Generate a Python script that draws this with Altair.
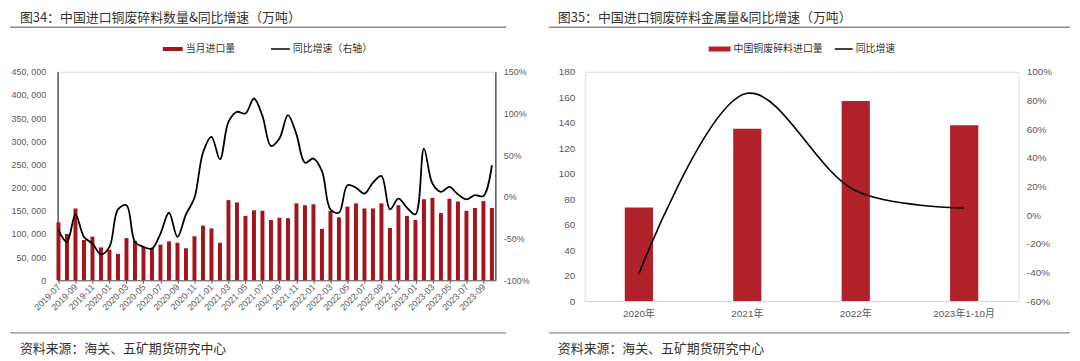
import altair as alt
import pandas as pd

# ---------------- data ----------------
months = [
    "2019-07", "2019-08", "2019-09", "2019-10", "2019-11", "2019-12",
    "2020-01", "2020-02", "2020-03", "2020-04", "2020-05", "2020-06",
    "2020-07", "2020-08", "2020-09", "2020-10", "2020-11", "2020-12",
    "2021-01", "2021-02", "2021-03", "2021-04", "2021-05", "2021-06",
    "2021-07", "2021-08", "2021-09", "2021-10", "2021-11", "2021-12",
    "2022-01", "2022-02", "2022-03", "2022-04", "2022-05", "2022-06",
    "2022-07", "2022-08", "2022-09", "2022-10", "2022-11", "2022-12",
    "2023-01", "2023-02", "2023-03", "2023-04", "2023-05", "2023-06",
    "2023-07", "2023-08", "2023-09", "2023-10",
]
monthly_imports = [
    125000, 100000, 155000, 87000, 94000, 71000, 66000, 57000, 91000, 85000,
    72000, 70000, 77000, 84000, 81000, 69000, 95000, 118000, 112000, 81000,
    173000, 168000, 139000, 151000, 150000, 130000, 135000, 134000, 166000, 162000,
    164000, 111000, 150000, 136000, 159000, 166000, 155000, 155000, 166000, 113000,
    162000, 139000, 130000, 175000, 178000, 145000, 176000, 170000, 150000, 156000,
    171000, 156000,
]
monthly_yoy = [
    -40, -54, -21, -48, -56, -69, -60, -15, -10, -54,
    -60, -62, -44, -19, -48, -21, -1, 53, 72, 45,
    90, 102, 100, 118, 97, 61, 70, 98, 75, 41,
    46, 31, -15, -19, 14, 11, 4, 17, 25, -15,
    -2, -13, -21, 58, 16, 6, 12, 3, -3, 2,
    1, 38,
]
month_tick_labels = months[::2]

years = ["2020年", "2021年", "2022年", "2023年1-10月"]
metal_imports = [73.5, 135.4, 157.2, 138.0]
metal_yoy = [-41, 85, 17, 5]

title_left = "图34：中国进口铜废碎料数量&同比增速（万吨）"
title_right = "图35：中国进口铜废碎料金属量&同比增速（万吨）"
source_text = "资料来源：海关、五矿期货研究中心"

# ---------------- style ----------------
CJK = "Noto Sans CJK SC"
NUMF = "Liberation Sans, Noto Sans CJK SC"
RED_L = "#a3141c"
RED_R = "#b0212a"
AX = "#595959"
TXT = "#333333"


def one(**kw):
    return pd.DataFrame([kw]) if kw else pd.DataFrame([{"k": 0}])


def text_layer(txt, x, y, size, align="left", font=CJK, color=TXT):
    return alt.Chart(one(t=txt)).mark_text(
        align=align, baseline="middle", fontSize=size, font=font, color=color
    ).encode(x=alt.value(x), y=alt.value(y), text="t:N")


def hrule(x1, x2, y, color, width, opacity=1.0):
    return alt.Chart(one()).mark_rule(
        color=color, strokeWidth=width, strokeOpacity=opacity
    ).encode(x=alt.value(x1), x2=alt.value(x2), y=alt.value(y))


# ---------------- left panel ----------------
W1, H1 = 441, 210
df1 = pd.DataFrame({"month": months, "imports": monthly_imports, "yoy": monthly_yoy})

x1 = alt.X(
    "month:O", sort=months, title=None,
    scale=alt.Scale(type="point", padding=0.25, align=0.2),
    axis=alt.Axis(
        values=month_tick_labels, labelAngle=-45, labelAlign="right",
        labelBaseline="middle", labelFontSize=9, labelFont=NUMF, labelColor=AX,
        labelPadding=2, domainColor=AX, domainWidth=1, tickColor=AX, tickSize=3,
        grid=False,
    ),
)

bars1 = alt.Chart(df1).mark_bar(size=4, color=RED_L).encode(
    x=x1,
    y=alt.Y(
        "imports:Q", title=None,
        scale=alt.Scale(domain=[0, 450000], nice=False),
        axis=alt.Axis(
            values=list(range(0, 450001, 50000)),
            labelExpr="replace(format(datum.value, ','), ',', ', ')",
            labelFontSize=9, labelFont=NUMF, labelColor=AX, labelPadding=12,
            domainColor=AX, domainWidth=1.5, ticks=False, grid=False,
        ),
    ),
)
line1 = alt.Chart(df1).mark_line(
    color="#000000", strokeWidth=1.8, interpolate="catmull-rom"
).encode(
    x=x1,
    y=alt.Y(
        "yoy:Q", title=None,
        scale=alt.Scale(domain=[-100, 150], nice=False),
        axis=alt.Axis(
            orient="right", values=[-100, -50, 0, 50, 100, 150],
            labelExpr="datum.value + '%'",
            labelFontSize=9, labelFont=NUMF, labelColor=AX, labelPadding=8,
            domainColor=AX, domainWidth=1.5, ticks=False, grid=False,
        ),
    ),
)

left = alt.layer(
    bars1, line1,
    text_layer(title_left, -38, -54.5, 13),
    hrule(-48, 452, -45, "#8c8c8c", 1.5),
    hrule(106, 126, -23, RED_L, 4),
    text_layer("当月进口量", 129, -23, 10),
    hrule(215, 234, -23, "#000000", 1.5),
    text_layer("同比增速（右轴）", 237, -23, 10),
    hrule(-48, 452, 263, "#8c8c8c", 1.5),
    text_layer(source_text, -38, 279, 13),
    hrule(484, 485, 100, "#ffffff", 1, 0.0),
).resolve_scale(y="independent").properties(width=W1, height=H1)

# ---------------- right panel ----------------
W2, H2 = 437, 231
df2 = pd.DataFrame({"year": years, "metal": metal_imports, "yoy": metal_yoy})

x2 = alt.X(
    "year:N", sort=years, title=None,
    scale=alt.Scale(paddingInner=0.74, paddingOuter=0.37),
    axis=alt.Axis(
        labelAngle=0, labelFontSize=10, labelFont=NUMF, labelColor=AX,
        labelPadding=8, domainColor="#d9d9d9", domainWidth=1, ticks=False, grid=False,
    ),
)
bars2 = alt.Chart(df2).mark_bar(color=RED_R).encode(
    x=x2,
    y=alt.Y(
        "metal:Q", title=None,
        scale=alt.Scale(domain=[0, 180], nice=False),
        axis=alt.Axis(
            values=list(range(0, 181, 20)), labelFontSize=10, labelFont=NUMF,
            labelColor=AX, labelPadding=10, domain=False, ticks=False, grid=False,
        ),
    ),
)
line2 = alt.Chart(df2).mark_line(
    color="#000000", strokeWidth=1.6, interpolate="catmull-rom"
).encode(
    x=x2,
    y=alt.Y(
        "yoy:Q", title=None,
        scale=alt.Scale(domain=[-60, 100], nice=False),
        axis=alt.Axis(
            orient="right", values=list(range(-60, 101, 20)),
            labelExpr="datum.value + '%'", labelFontSize=10, labelFont=NUMF,
            labelColor=AX, labelPadding=8, domain=False, ticks=False, grid=False,
        ),
    ),
)

right = alt.layer(
    bars2, line2,
    text_layer(title_right, -27, -54.5, 13),
    hrule(-36, 489, -45, "#8c8c8c", 1.5),
    hrule(125, 147, -23, RED_R, 5),
    text_layer("中国铜废碎料进口量", 150, -23, 10),
    hrule(252, 270, -23, "#000000", 1.5),
    text_layer("同比增速", 273, -23, 10),
    hrule(-36, 489, 263, "#8c8c8c", 1.5),
    text_layer(source_text, -27, 279, 13),
).resolve_scale(y="independent").properties(width=W2, height=H2)

chart = alt.hconcat(left, right, spacing=7).properties(
    padding={"left": 0, "top": 2, "right": 0, "bottom": 0}
).configure_view(stroke=None).configure(font=CJK)

chart.save("out.html", embed_options={"renderer": "svg", "actions": False})
